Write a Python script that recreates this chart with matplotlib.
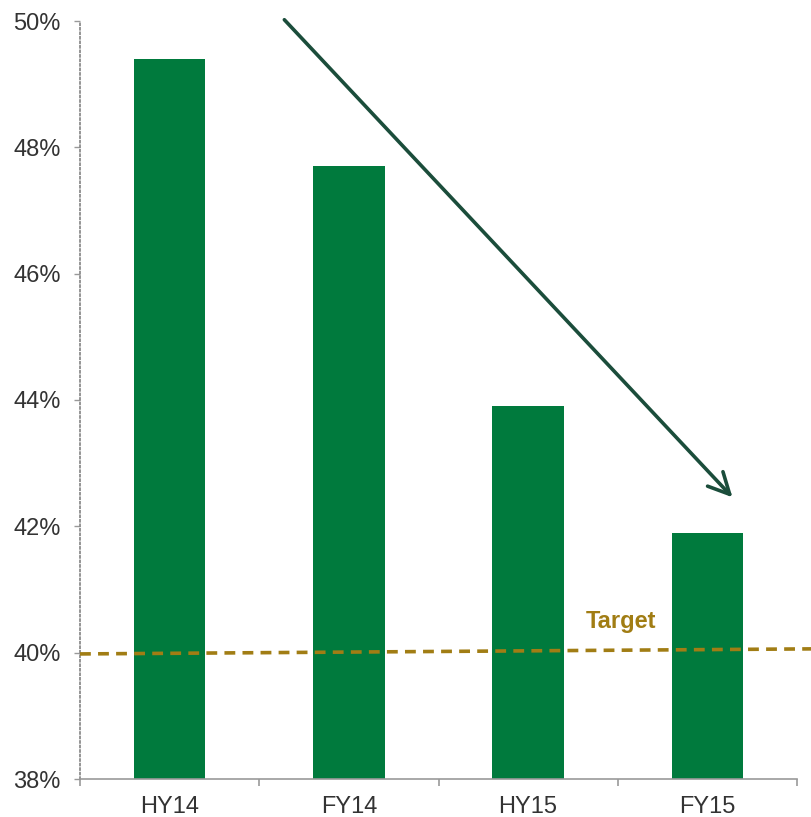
import matplotlib.pyplot as plt
import numpy as np

# Data
categories = ["HY14", "FY14", "HY15", "FY15"]
ratio = [49.4, 47.7, 43.9, 41.9]
target_start, target_end = 39.98, 40.06
y_ticks = [38, 40, 42, 44, 46, 48, 50]

plt.rcParams["font.family"] = ["Liberation Sans", "DejaVu Sans"]

fig = plt.figure(figsize=(8.11, 8.17), dpi=100)
ax = fig.add_axes([80 / 811, 1 - 779 / 817, 717 / 811, 758 / 817])

x = np.arange(len(categories))
ax.bar(x, ratio, width=0.4, color="#007A3D", zorder=2)

ax.set_xlim(-0.5, len(categories) - 0.5)
ax.set_ylim(38, 50)

# Target line (runs past the right spine to the figure edge)
ax.plot([-0.5, 3.58], [target_start, target_end], color="#A17D14",
        linestyle=(0, (3, 2)), linewidth=2.6, clip_on=False, zorder=3)
ax.text(2.52, 40.5, "Target", color="#A17D14", fontsize=17,
        fontweight="bold", ha="center", va="center")

# Trend arrow
ax.annotate("", xy=(3.14, 42.46), xytext=(0.64, 50.02),
            arrowprops=dict(arrowstyle="->", color="#1B4D3B", lw=2.6,
                            mutation_scale=38, shrinkA=0, shrinkB=0),
            annotation_clip=False, zorder=4)

# Axes styling
ax.set_yticks(y_ticks)
ax.set_yticklabels([f"{v}%" for v in y_ticks])
ax.set_xticks(x)
ax.set_xticklabels(categories)
ax.set_xticks(np.arange(-0.5, len(categories)), minor=True)

for s in ["top", "right"]:
    ax.spines[s].set_visible(False)
ax.spines["left"].set_color("#8c8c8c")
ax.spines["left"].set_linestyle((0, (1, 1.5)))
ax.spines["left"].set_linewidth(1.3)
ax.spines["bottom"].set_color("#999999")
ax.spines["bottom"].set_linewidth(1.2)

ax.tick_params(axis="y", length=4, width=1, color="#999999",
               labelsize=17, labelcolor="#333333", pad=10)
ax.tick_params(axis="x", which="major", length=0, labelsize=17,
               labelcolor="#333333", pad=12)
ax.tick_params(axis="x", which="minor", length=5, width=1.2, color="#999999")

fig.savefig("out.png", dpi=100)
